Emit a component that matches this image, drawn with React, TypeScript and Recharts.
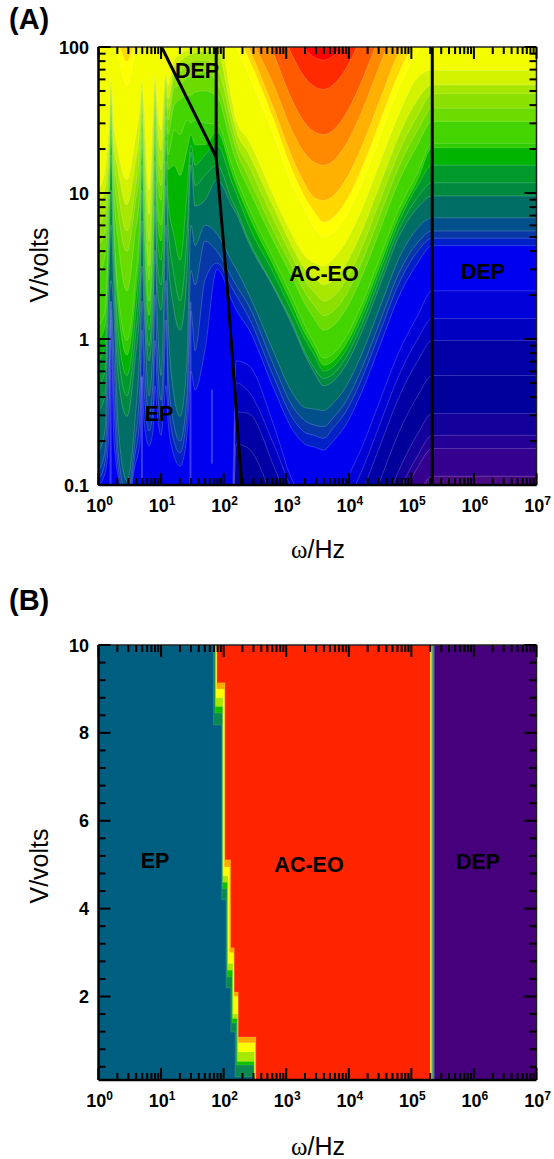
import { Area, ComposedChart, Line, XAxis, YAxis } from "recharts";

const FONT = "Liberation Sans, Arial, sans-serif";

// frequency decades and the minor ticks inside them
const decades = [1, 10, 100, 1e3, 1e4, 1e5, 1e6, 1e7];
const mantissas = [2, 3, 4, 5, 6, 7, 8, 9];
const freqTicks = [...decades, ...decades.slice(0, 7).flatMap((d) => mantissas.map((m) => m * d))];
const voltDecades = [0.1, 1, 10, 100];
const voltTicksA = [...voltDecades, ...voltDecades.slice(0, 3).flatMap((d) => mantissas.map((m) => m * d))];
const voltMajorB = [2, 4, 6, 8, 10];
const voltTicksB = [0.4, 0.8, 1.2, 1.6, 2, 2.4, 2.8, 3.2, 3.6, 4, 4.4, 4.8, 5.2, 5.6, 6, 6.4, 6.8, 7.2, 7.6, 8, 8.4, 8.8, 9.2, 9.6, 10];

// Panel A: log10(f) columns of the contour levels
const epCols = [0, 0.104, 0.16, 0.2, 0.24, 0.312, 0.455, 0.583, 0.663, 0.695, 0.727, 0.807, 0.871, 0.903, 0.935, 0.999, 1.047, 1.079, 1.111, 1.207, 1.303, 1.414, 1.478, 1.542, 1.7];
const bowlCols = [1.894, 2.134, 2.2, 2.4, 2.8, 3.1, 3.3, 3.45, 3.6, 3.75, 3.95, 4.2, 4.5, 4.8, 5.1, 5.335];
const lastCol = 7;

// contour colours, lowest value first
const levelColors = [
  "#36008e", "#240096", "#14009a", "#00009a", "#0000a4", "#0000c0", "#0000d8", "#0000f0",
  "#0020c8", "#0838a8", "#00508c", "#006e64", "#008a40", "#009a2c", "#00b400", "#30cc00",
  "#44d400", "#6cdc00", "#8ce000", "#a8e800", "#d2f200", "#f4fc00", "#ffff00", "#ffd800",
  "#ffb000", "#ff8a00", "#ff5a00", "#ff2a00", "#ff0000",
];

const under = epCols.map(() => -1.5);
const justUnder = epCols.map(() => -1.1);
const over = epCols.map(() => 2.4);

// log10(V) of each level over epCols (left, fringe part of the map)
const epLogVolts = [
  under, under, under, under, under, under, under, justUnder,
  [-1.0, -0.92, -0.7, 0.13, -0.63, -0.94, -1.14, -0.87, -0.7, -0.25, -0.56, -0.73, -0.63, -0.32, -0.49, -0.66, -0.46, -0.32, -0.56, -0.8, -0.87, -0.66, -0.22, -0.35, -0.08],
  [-0.96, -0.85, -0.49, 0.2, -0.35, -0.87, -1.11, -0.8, -0.52, 0.06, -0.32, -0.63, -0.49, -0.01, -0.29, -0.56, -0.25, 0.13, -0.39, -0.7, -0.78, -0.52, 0.19, -0.08, 0.4],
  [-0.9, -0.77, -0.22, 0.26, -0.08, -0.77, -1.07, -0.7, -0.32, 0.26, -0.08, -0.53, -0.29, 0.3, -0.08, -0.42, -0.05, 0.4, -0.22, -0.59, -0.7, -0.39, 0.47, 0.37, 0.67],
  [-0.77, -0.63, 0.09, 0.4, 0.23, -0.59, -0.97, -0.56, -0.01, 0.5, 0.2, -0.39, -0.05, 0.61, 0.2, -0.25, 0.26, 0.78, 0.13, -0.39, -0.53, -0.15, 0.78, 0.64, 0.78],
  [-0.49, -0.39, 0.33, 0.78, 0.4, -0.25, -0.53, -0.15, 0.26, 0.81, 0.33, -0.15, 0.2, 0.91, 0.37, 0.2, 0.5, 1.05, 0.57, 0.2, 0.06, 0.44, 1.19, 0.91, 0.95],
  [-0.32, -0.22, 0.47, 1.02, 0.57, -0.08, -0.39, -0.01, 0.44, 1.02, 0.5, -0.05, 0.37, 1.09, 0.54, 0.37, 0.68, 1.22, 0.78, 0.44, 0.26, 0.7, 1.28, 1.05, 1.12],
  [-0.15, -0.04, 0.61, 1.26, 0.71, 0.06, -0.25, 0.13, 0.61, 1.19, 0.68, 0.06, 0.54, 1.22, 0.71, 0.54, 0.85, 1.36, 0.95, 0.71, 0.54, 1.0, 1.33, 1.19, 1.26],
  [-0.01, 0.09, 0.71, 1.4, 0.81, 0.23, -0.11, 0.26, 0.74, 1.33, 0.81, 0.16, 0.67, 1.36, 0.85, 0.67, 0.98, 1.46, 1.16, 1.19, 1.12, 1.29, 1.4, 1.33, 1.33],
  [0.09, 0.19, 0.78, 1.5, 0.88, 0.33, -0.01, 0.37, 0.85, 1.42, 0.92, 0.26, 0.78, 1.46, 0.95, 0.78, 1.09, 1.53, 1.26, 1.43, 1.4, 1.5, 1.48, 1.5, 1.48],
  [0.44, 0.57, 0.95, 1.57, 1.05, 0.68, 0.33, 0.71, 1.02, 1.51, 1.09, 0.4, 1.02, 1.57, 1.12, 0.95, 1.29, 1.62, 1.4, 1.6, 1.64, 1.67, 1.67, 1.69, 1.7],
  [0.64, 0.74, 1.09, 1.64, 1.19, 0.88, 0.6, 0.92, 1.19, 1.6, 1.22, 0.5, 1.19, 1.65, 1.29, 1.05, 1.43, 1.69, 1.5, 1.72, 1.74, 1.79, 1.8, 1.81, 1.83],
  [0.78, 0.88, 1.19, 1.69, 1.29, 1.02, 0.74, 1.02, 1.33, 1.66, 1.36, 0.67, 1.29, 1.72, 1.43, 1.16, 1.53, 1.74, 1.57, 1.79, 1.83, 1.88, 1.9, 1.91, 1.91],
  [0.92, 1.02, 1.29, 1.74, 1.36, 1.16, 0.92, 1.19, 1.46, 1.72, 1.46, 0.85, 1.43, 1.77, 1.53, 1.29, 1.64, 1.79, 1.64, 1.86, 1.9, 1.94, 1.95, 1.96, 1.97],
  [1.02, 1.16, 1.43, 1.79, 1.5, 1.29, 1.09, 1.36, 1.6, 1.77, 1.6, 1.02, 1.57, 1.81, 1.64, 1.43, 1.74, 1.81, 1.74, 1.91, 1.95, 1.98, 2.0, 2.0, 2.0],
  [1.94, 1.98, 2.05, 2.08, 2.05, 1.94, 1.74, 1.94, 2.05, 2.1, 2.1, 2.1, 2.1, 2.1, 2.1, 2.1, 2.1, 2.1, 2.1, 2.1, 2.1, 2.1, 2.1, 2.1, 2.1],
  [2.05, 2.1, 2.1, 2.1, 2.1, 2.03, 1.9, 2.03, 2.1, 2.1, 2.1, 2.1, 2.1, 2.1, 2.1, 2.1, 2.1, 2.1, 2.1, 2.1, 2.1, 2.1, 2.1, 2.1, 2.1],
  over, over, over, over, over,
];

// log10(V) of each level over bowlCols (AC-EO bowl, then the flat DEP part)
const bowlLogVolts = [
  [-2, -2, -2, -2, -2, -2, -2, -2, -2, -2, -2, -2, -1.65, -1.32, -1.07, -0.94],
  [-2, -2, -2, -2, -2, -2, -2, -2, -2, -2, -2, -1.79, -1.46, -1.13, -0.88, -0.75],
  [-2, -2, -1.2, -1.16, -1.52, -2, -2, -2, -2, -2, -1.93, -1.71, -1.38, -1.05, -0.8, -0.66],
  [-1.5, -1.5, -1.0, -1.01, -1.37, -1.69, -1.84, -1.9, -1.92, -1.89, -1.78, -1.56, -1.23, -0.9, -0.65, -0.51],
  [-1.5, -1.5, -0.72, -0.75, -1.11, -1.43, -1.58, -1.64, -1.66, -1.63, -1.52, -1.3, -0.97, -0.64, -0.39, -0.25],
  [-1.4, -1.4, -0.5, -0.51, -0.87, -1.19, -1.34, -1.4, -1.42, -1.39, -1.28, -1.06, -0.73, -0.4, -0.15, -0.01],
  [-1.3, -1.3, -0.3, -0.36, -0.72, -1.04, -1.19, -1.25, -1.27, -1.24, -1.13, -0.91, -0.58, -0.25, 0, 0.14],
  [-1.1, -1.1, -0.15, -0.18, -0.59, -0.97, -1.08, -1.1, -1.11, -1.08, -0.97, -0.75, -0.42, -0.09, 0.16, 0.33],
  [0.48, 0.26, 0.2, 0.07, -0.34, -0.62, -0.72, -0.74, -0.76, -0.7, -0.59, -0.37, -0.04, 0.29, 0.52, 0.64],
  [0.52, 0.35, 0.3, 0.15, -0.26, -0.54, -0.64, -0.66, -0.68, -0.61, -0.5, -0.28, 0.05, 0.38, 0.6, 0.69],
  [0.6, 0.42, 0.37, 0.23, -0.18, -0.46, -0.56, -0.59, -0.6, -0.54, -0.43, -0.21, 0.12, 0.45, 0.66, 0.74],
  [0.72, 0.53, 0.48, 0.31, -0.09, -0.37, -0.47, -0.48, -0.49, -0.44, -0.33, -0.11, 0.22, 0.55, 0.76, 0.83],
  [1.09, 0.91, 0.86, 0.66, 0.35, 0.09, -0.11, -0.23, -0.32, -0.29, -0.18, 0.04, 0.37, 0.7, 0.9, 0.98],
  [1.19, 0.95, 0.89, 0.68, 0.36, 0.11, -0.09, -0.2, -0.27, -0.24, -0.13, 0.09, 0.42, 0.75, 0.97, 1.07],
  [1.33, 1.07, 1.0, 0.78, 0.45, 0.18, 0.0, -0.11, -0.22, -0.19, -0.08, 0.14, 0.47, 0.8, 1.05, 1.19],
  [1.42, 1.14, 1.06, 0.85, 0.5, 0.23, 0.04, -0.07, -0.18, -0.15, -0.04, 0.18, 0.51, 0.84, 1.09, 1.31],
  [1.47, 1.19, 1.11, 0.9, 0.55, 0.28, 0.09, -0.03, -0.13, -0.1, 0.01, 0.23, 0.56, 0.89, 1.14, 1.34],
  [1.66, 1.31, 1.22, 1.03, 0.67, 0.42, 0.24, 0.14, 0.06, 0.09, 0.2, 0.42, 0.75, 1.08, 1.33, 1.49],
  [1.76, 1.4, 1.3, 1.11, 0.74, 0.49, 0.32, 0.23, 0.16, 0.19, 0.3, 0.52, 0.85, 1.18, 1.43, 1.58],
  [1.86, 1.47, 1.36, 1.19, 0.82, 0.56, 0.4, 0.32, 0.26, 0.29, 0.4, 0.62, 0.95, 1.28, 1.53, 1.68],
  [1.97, 1.54, 1.43, 1.27, 0.9, 0.63, 0.48, 0.42, 0.37, 0.4, 0.51, 0.73, 1.06, 1.39, 1.64, 1.74],
  [2.12, 1.63, 1.5, 1.36, 0.98, 0.71, 0.57, 0.52, 0.5, 0.55, 0.66, 0.88, 1.21, 1.54, 1.79, 1.84],
  [2.3, 2.06, 2.0, 1.81, 1.4, 1.05, 0.88, 0.76, 0.7, 0.73, 0.84, 1.06, 1.39, 1.72, 1.97, 2.1],
  [2.4, 2.16, 2.1, 1.92, 1.5, 1.15, 0.97, 0.87, 0.8, 0.83, 0.94, 1.16, 1.49, 1.82, 2.07, 2.2],
  [2.55, 2.3, 2.2, 2.0, 1.58, 1.24, 1.06, 0.97, 0.95, 0.98, 1.09, 1.31, 1.64, 1.97, 2.22, 2.38],
  [2.8, 2.4, 2.3, 2.1, 1.74, 1.42, 1.27, 1.21, 1.19, 1.22, 1.33, 1.55, 1.88, 2.21, 2.46, 2.62],
  [3, 2.6, 2.51, 2.31, 1.95, 1.63, 1.48, 1.42, 1.4, 1.43, 1.54, 1.76, 2.09, 2.42, 2.67, 2.83],
  [3, 3, 3, 2.6, 2.26, 1.94, 1.79, 1.73, 1.71, 1.74, 1.85, 2.07, 2.4, 2.7, 3, 3],
  [3, 3, 3, 3, 2.46, 2.14, 1.99, 1.93, 1.91, 1.94, 2.05, 2.27, 2.6, 3, 3, 3],
];

// pale streaks where the fringe contours crowd together
const streaks = [
  [{ f: 1.56, v: 0.1 }, { f: 1.56, v: 1.8 }],
  [{ f: 4.95, v: 0.1 }, { f: 4.95, v: 0.55 }],
  [{ f: 29.5, v: 0.1 }, { f: 29.5, v: 1.8 }],
  [{ f: 65, v: 0.14 }, { f: 65, v: 0.45 }],
];

// black region boundaries of panel A
const wedgeLine = [{ f: 10.2, v: 100 }, { f: 76, v: 17.6 }];
const wedgeSide = [{ f: 76, v: 100 }, { f: 76, v: 17.6 }];
const epBoundary = [{ f: 76, v: 17.6 }, { f: 112, v: 2.51 }, { f: 194.5, v: 0.1 }];
const depBoundary = [{ f: 216000, v: 100 }, { f: 216000, v: 0.1 }];

// Panel B: transition from EP to AC-EO, lowest value first
const edgeColors = ["#0a8a50", "#10c000", "#a8e800", "#ffff00", "#ffa800", "#ff2400"];
const edgeLogFreq = [
  [1.838, 1.838, 1.969, 1.969, 2.038, 2.038, 2.113, 2.113, 2.182, 2.182, 2.485, 2.485, 5.3],
  [1.862, 1.862, 1.982, 1.982, 2.054, 2.054, 2.134, 2.134, 2.206, 2.206, 2.49, 2.49, 5.3],
  [1.87, 1.87, 1.986, 1.986, 2.062, 2.062, 2.142, 2.142, 2.218, 2.218, 2.49, 2.49, 5.3],
  [1.878, 1.878, 1.99, 1.99, 2.07, 2.07, 2.15, 2.15, 2.23, 2.23, 2.493, 2.493, 5.3],
  [1.886, 1.886, 2.01, 2.01, 2.094, 2.094, 2.16, 2.16, 2.232, 2.232, 2.501, 2.501, 5.3],
  [1.894, 1.894, 2.022, 2.022, 2.113, 2.113, 2.17, 2.17, 2.234, 2.234, 2.517, 2.517, 5.3],
];
const edgeVolts = [
  [10, 8.18, 8.18, 4.2, 4.2, 2.2, 2.2, 1.19, 1.19, 0.17, 0.17, 0.1, 0.1],
  [10, 8.45, 8.45, 4.45, 4.45, 2.45, 2.45, 1.4, 1.4, 0.44, 0.44, 0.1, 0.1],
  [10, 8.6, 8.6, 4.6, 4.6, 2.6, 2.6, 1.5, 1.5, 0.52, 0.52, 0.1, 0.1],
  [10, 8.8, 8.8, 4.75, 4.75, 2.75, 2.75, 1.6, 1.6, 0.74, 0.74, 0.1, 0.1],
  [10, 9.0, 9.0, 4.95, 4.95, 3.0, 3.0, 2.0, 2.0, 0.95, 0.95, 0.1, 0.1],
  [10, 9.14, 9.14, 5.11, 5.11, 3.11, 3.11, 2.1, 2.1, 1.08, 1.08, 0.1, 0.1],
];
// thin strip at the AC-EO / DEP edge, then the DEP block
const stripColors = ["#f4e23c", "#7ecb5a", "#5a70a0", "#46007c"];
const stripStart = [5.298, 5.319, 5.338, 5.37];

const epColorB = "#005f80";

const mapA = levelColors.map((color, i) => ({
  color,
  data: [
    ...epCols.map((c, j) => ({ f: 10 ** c, band: [10 ** epLogVolts[i][j], 1000] })),
    ...bowlCols.map((c, j) => ({ f: 10 ** c, band: [10 ** bowlLogVolts[i][j], 1000] })),
    { f: 10 ** lastCol, band: [10 ** bowlLogVolts[i][bowlCols.length - 1], 1000] },
  ],
}));
const baseA = [{ f: 1, band: [0.01, 1000] }, { f: 1e7, band: [0.01, 1000] }];
const baseB = [{ f: 1, band: [0.1, 10] }, { f: 1e7, band: [0.1, 10] }];
const edgesB = edgeColors.map((color, i) => ({
  color,
  data: edgeLogFreq[i].map((c, j) => ({ f: 10 ** c, band: [edgeVolts[i][j], 10] })),
}));
const stripsB = stripColors.map((color, i) => ({
  color,
  data: [{ f: 10 ** stripStart[i], band: [0.1, 10] }, { f: 1e7, band: [0.1, 10] }],
}));

const MAJOR = 12;
const MINOR = 7;

function tickMark(side: "left" | "right" | "top" | "bottom", isMajor: (v: number) => boolean, label?: (v: number) => any) {
  return (props: any) => {
    const { x, y, payload } = props;
    const v = payload.value;
    const len = isMajor(v) ? MAJOR : MINOR;
    const x2 = side === "left" ? x + len : side === "right" ? x - len : x;
    const y2 = side === "top" ? y + len : side === "bottom" ? y - len : y;
    const draw = label ? label(v) : null;
    return (
      <g>
        <line x1={x} y1={y} x2={x2} y2={y2} stroke="#000" strokeWidth={2} />
        {draw ? draw(x, y) : null}
      </g>
    );
  };
}

const isDecade = (v: number) => decades.includes(v);
const isVoltDecade = (v: number) => voltDecades.includes(v);
const isVoltMajorB = (v: number) => voltMajorB.includes(v);

const freqLabel = (v: number) =>
  isDecade(v)
    ? (x: number, y: number) => (
        <text x={x + 1} y={y + 27} textAnchor="middle" fontFamily={FONT} fontWeight="bold" fontSize={18} fill="#000">
          10
          <tspan dy={-7} fontSize={12}>
            {Math.round(Math.log10(v))}
          </tspan>
        </text>
      )
    : null;

const voltLabel = (show: (v: number) => boolean) => (v: number) =>
  show(v)
    ? (x: number, y: number) => (
        <text x={x - 9.5} y={y + 6.5} textAnchor="end" fontFamily={FONT} fontWeight="bold" fontSize={18} fill="#000">
          {v}
        </text>
      )
    : null;

function Frame({ yScale, yDomain, yTicks, yMajor, yLabel }: any) {
  return (
    <>
      <XAxis dataKey="f" type="number" scale="log" domain={[1, 1e7]} allowDataOverflow ticks={freqTicks} interval={0} height={1} tickSize={0} tickMargin={0} tickLine={false} axisLine={{ stroke: "#000", strokeWidth: 2.5 }} tick={tickMark("bottom", isDecade, freqLabel)} />
      <XAxis xAxisId="top" orientation="top" dataKey="f" type="number" scale="log" domain={[1, 1e7]} allowDataOverflow ticks={freqTicks} interval={0} height={1} tickSize={0} tickMargin={0} tickLine={false} axisLine={{ stroke: "#222", strokeWidth: 1.5 }} tick={tickMark("top", isDecade)} />
      <YAxis type="number" scale={yScale} domain={yDomain} allowDataOverflow ticks={yTicks} interval={0} width={1} tickSize={0} tickMargin={0} tickLine={false} axisLine={{ stroke: "#000", strokeWidth: 2.5 }} tick={tickMark("left", yMajor, yLabel)} />
      <YAxis yAxisId="right" orientation="right" type="number" scale={yScale} domain={yDomain} allowDataOverflow ticks={yTicks} interval={0} width={1} tickSize={0} tickMargin={0} tickLine={false} axisLine={{ stroke: "#222", strokeWidth: 1.5 }} tick={tickMark("right", yMajor)} />
    </>
  );
}

const bandArea = (key: string, color: string, data: any[], contour: string, curve: any = "linear") => (
  <Area key={key} data={data} dataKey="band" type={curve} fill={color} fillOpacity={1} stroke={contour} strokeWidth={0.6} dot={false} activeDot={false} isAnimationActive={false} />
);

const boundary = (key: string, data: any[]) => (
  <Line key={key} data={data} dataKey="v" type="linear" stroke="#000" strokeWidth={3} dot={false} activeDot={false} isAnimationActive={false} />
);

function PanelA() {
  return (
    <ComposedChart width={554} height={580} margin={{ top: 46, right: 16.5, bottom: 94, left: 97.5 }}>
      {bandArea("base", "#4a0a85", baseA, "none")}
      {mapA.map((l, i) => bandArea("l" + i, l.color, l.data, "rgba(255,255,255,0.32)", "monotoneX"))}
      {streaks.map((s, i) => (
        <Line key={"st" + i} data={s} dataKey="v" stroke="#7a80e6" strokeOpacity={0.45} strokeWidth={2} dot={false} activeDot={false} isAnimationActive={false} />
      ))}
      {boundary("wedge", wedgeLine)}
      {boundary("side", wedgeSide)}
      {boundary("ep", epBoundary)}
      {boundary("dep", depBoundary)}
      {Frame({ yScale: "log", yDomain: [0.1, 100], yTicks: voltTicksA, yMajor: isVoltDecade, yLabel: voltLabel(isVoltDecade) })}
    </ComposedChart>
  );
}

function PanelB() {
  return (
    <ComposedChart width={554} height={579} margin={{ top: 64, right: 16.5, bottom: 78, left: 97.5 }}>
      {bandArea("base", epColorB, baseB, "none")}
      {edgesB.map((l, i) => bandArea("e" + i, l.color, l.data, "rgba(255,255,255,0.2)"))}
      {stripsB.map((l, i) => bandArea("s" + i, l.color, l.data, "none"))}
      {Frame({ yScale: "linear", yDomain: [0.1, 10], yTicks: voltTicksB, yMajor: isVoltMajorB, yLabel: voltLabel(isVoltMajorB) })}
    </ComposedChart>
  );
}

const txt = { fontFamily: FONT, fill: "#000" };
const regionLabels = [
  { text: "DEP", x: 197, y: 78 },
  { text: "AC-EO", x: 324, y: 281 },
  { text: "DEP", x: 483, y: 279 },
  { text: "EP", x: 159, y: 421 },
  { text: "EP", x: 155, y: 868 },
  { text: "AC-EO", x: 309, y: 872 },
  { text: "DEP", x: 478, y: 869 },
];

function Overlay() {
  return (
    <svg width={554} height={1159} style={{ position: "absolute", left: 0, top: 0, pointerEvents: "none" }}>
      <text x={9} y={29} fontSize={29} fontWeight="bold" {...txt}>(A)</text>
      <text x={9} y={610} fontSize={29} fontWeight="bold" {...txt}>(B)</text>
      {regionLabels.map((l, i) => (
        <text key={i} x={l.x} y={l.y} textAnchor="middle" fontSize={21.5} fontWeight="bold" {...txt}>{l.text}</text>
      ))}
      <text x={48} y={265} textAnchor="middle" fontSize={25} transform="rotate(-90 48 265)" {...txt}>V/volts</text>
      <text x={48} y={866} textAnchor="middle" fontSize={25} transform="rotate(-90 48 866)" {...txt}>V/volts</text>
      <text x={318} y={558} textAnchor="middle" fontSize={25} {...txt}>
        <tspan fontFamily="Liberation Serif">ω</tspan>/Hz
      </text>
      <text x={318} y={1155} textAnchor="middle" fontSize={25} {...txt}>
        <tspan fontFamily="Liberation Serif">ω</tspan>/Hz
      </text>
    </svg>
  );
}

export default function App() {
  return (
    <div style={{ position: "absolute", left: 0, top: 0, width: 554, height: 1159, background: "#fff", overflow: "hidden" }}>
      <div style={{ position: "absolute", left: 0, top: 0 }}>
        <PanelA />
      </div>
      <div style={{ position: "absolute", left: 0, top: 580 }}>
        <PanelB />
      </div>
      <Overlay />
    </div>
  );
}
